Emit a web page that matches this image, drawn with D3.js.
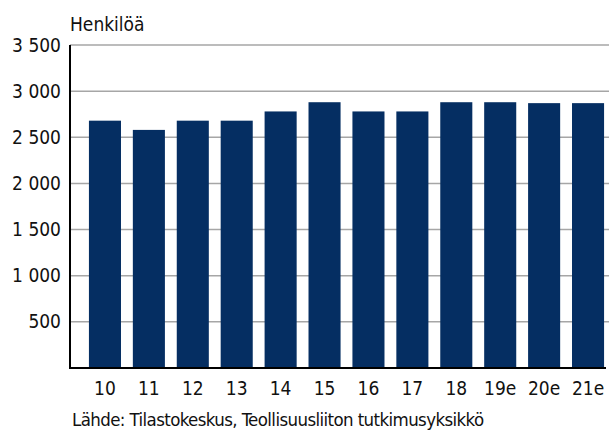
<!DOCTYPE html>
<html>
<head>
<meta charset="utf-8">
<script src="https://cdn.jsdelivr.net/npm/d3@7"></script>
<style>
  body { margin: 0; background: #fff; }
  svg { display: block; }
  text { font-family: "DejaVu Sans", sans-serif; font-stretch: condensed; fill: #111; }
</style>
</head>
<body>
<div id="chart"></div>
<script>
// Data
const years = ['10', '11', '12', '13', '14', '15', '16', '17', '18', '19e', '20e', '21e'];
const persons = [2680, 2580, 2680, 2680, 2780, 2880, 2780, 2780, 2880, 2880, 2870, 2870];
const yTicks = [500, 1000, 1500, 2000, 2500, 3000, 3500];
const unitLabel = 'Henkilöä';
const sourceLabel = 'Lähde: Tilastokeskus, Teollisuusliiton tutkimusyksikkö';

let full_width = 609;
let full_height = 430;
let margin = {top: 45, left: 70, right: 0, bottom: 62};
let fontSize = '19px';

const svg = d3.select('#chart')
  .append('svg')
    .attr('width', full_width)
    .attr('height', full_height);

// scales
let x = d3.scaleBand()
  .domain(years)
  .range([83, 610])
  .paddingInner(0.27)
  .paddingOuter(0.135);
let y = d3.scaleLinear()
  .domain([0, 3500])
  .range([368, 45]);

const fmt = d3.formatLocale({decimal: ',', thousands: '\u00a0', grouping: [3], currency: ['', '']}).format(',d');

// gridlines
svg.append('g')
  .selectAll('line')
  .data(yTicks)
  .enter()
  .append('line')
    .attr('x1', margin.left)
    .attr('x2', full_width)
    .attr('y1', d => y(d))
    .attr('y2', d => y(d))
    .attr('stroke', '#a6a6a6')
    .attr('stroke-width', 1.5);

// bars
svg.append('g')
  .selectAll('rect')
  .data(years)
  .enter()
  .append('rect')
    .attr('x', d => x(d))
    .attr('width', x.bandwidth())
    .attr('y', (d, i) => y(persons[i]))
    .attr('height', (d, i) => y(0) - y(persons[i]))
    .attr('fill', '#052e62');

// y axis labels
const yAxis = svg.append('g')
  .attr('transform', 'translate(' + margin.left + ',0)')
  .call(d3.axisLeft(y).tickValues(yTicks).tickFormat(fmt).tickSize(0).tickPadding(9));
yAxis.select('.domain').remove();
yAxis.selectAll('text')
  .attr('font-size', fontSize)
  .attr('font-family', null)
  .attr('fill', '#111');

// x axis labels
const xAxis = svg.append('g')
  .attr('transform', 'translate(0,' + y(0) + ')')
  .call(d3.axisBottom(x).tickSize(0).tickPadding(14));
xAxis.select('.domain').remove();
xAxis.selectAll('text')
  .attr('font-size', fontSize)
  .attr('font-family', null)
  .attr('fill', '#111');

// axis lines
svg.append('line')
  .attr('x1', margin.left)
  .attr('x2', margin.left)
  .attr('y1', y(3500))
  .attr('y2', y(0) + 1)
  .attr('stroke', '#000')
  .attr('stroke-width', 2);
svg.append('line')
  .attr('x1', margin.left - 1)
  .attr('x2', 606)
  .attr('y1', y(0))
  .attr('y2', y(0))
  .attr('stroke', '#000')
  .attr('stroke-width', 2);

// unit and source
svg.append('text')
  .attr('x', 70)
  .attr('y', 31)
  .attr('font-size', fontSize)
  .text(unitLabel);

svg.append('text')
  .attr('x', 72)
  .attr('y', 426)
  .attr('font-size', '18.5px')
  .style('letter-spacing', '-0.6px')
  .text(sourceLabel);
</script>
</body>
</html>
